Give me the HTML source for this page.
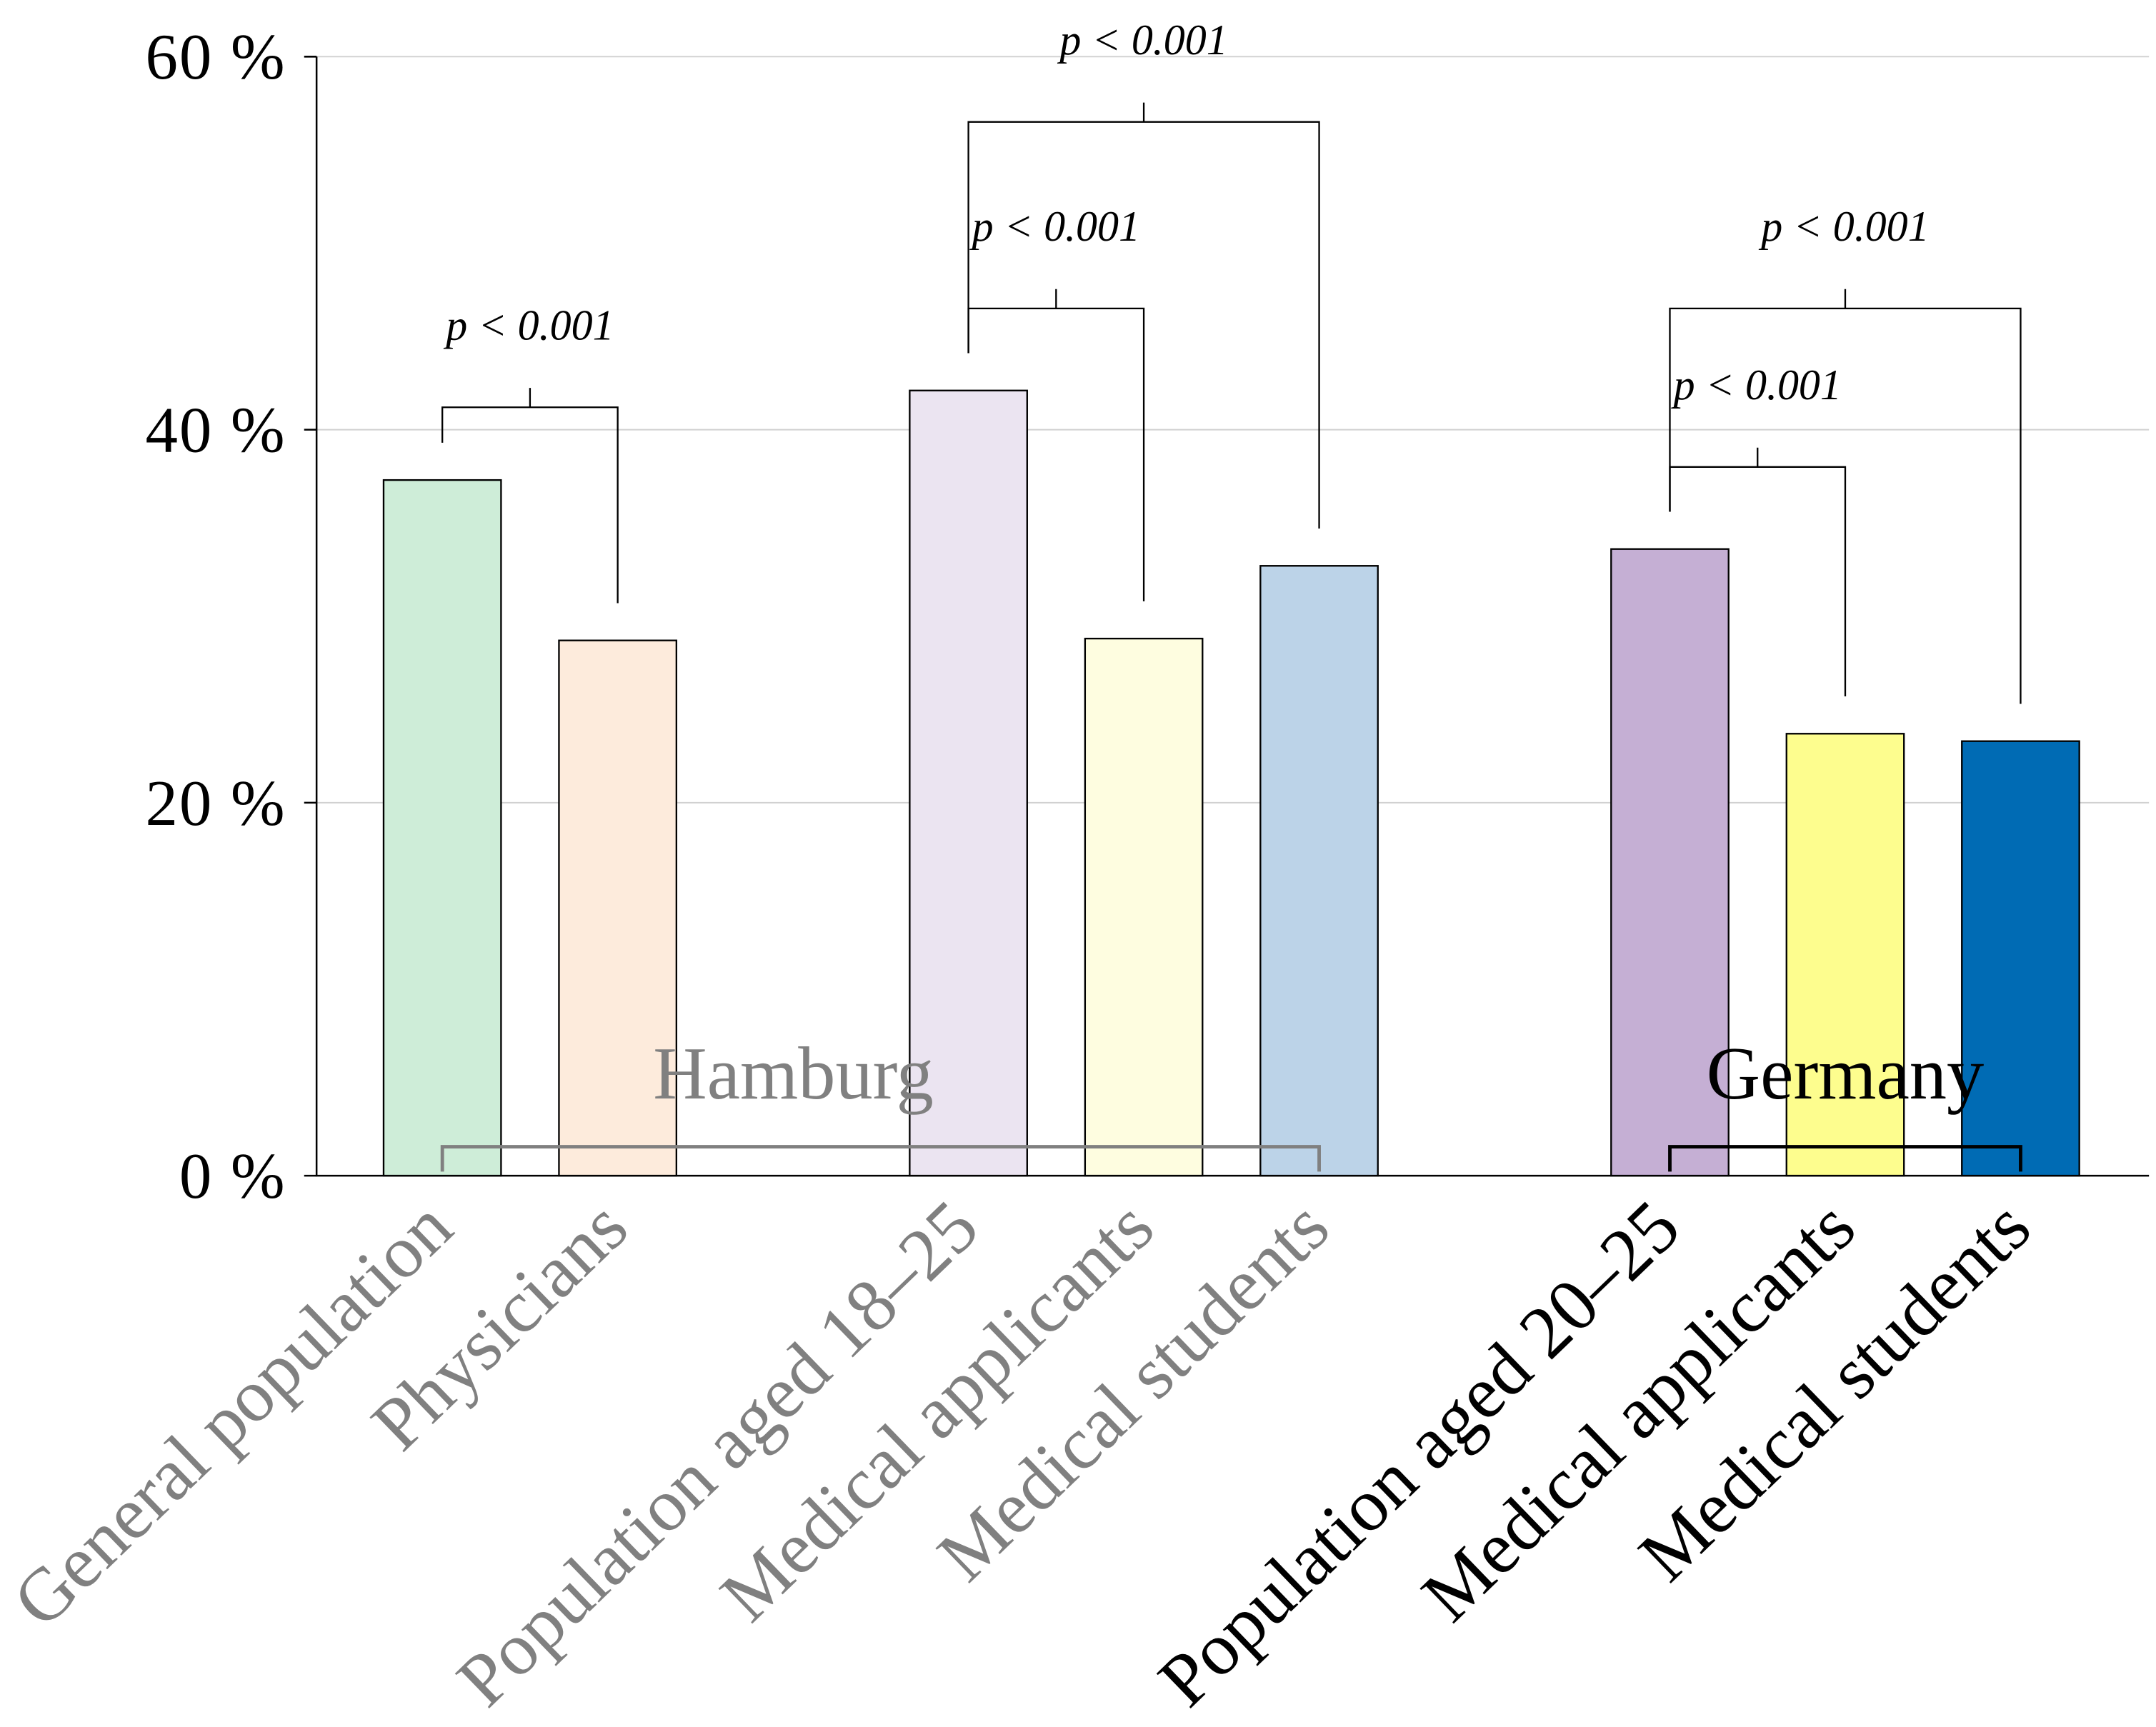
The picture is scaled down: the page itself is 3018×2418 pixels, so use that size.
<!DOCTYPE html>
<html><head><meta charset="utf-8"><style>
html,body{margin:0;padding:0;background:#fff;}
svg{display:block;}
</style></head><body>
<svg id="chart" width="3018" height="2418" viewBox="0 0 1560 1250" xmlns="http://www.w3.org/2000/svg" font-family="'Liberation Serif', serif"></svg>
<script>
const categories = ["General population","Physicians","Population aged 18–25","Medical applicants","Medical students","Population aged 20–25","Medical applicants","Medical students"];
const values = [37.3, 28.7, 42.1, 28.8, 32.7, 33.6, 23.7, 23.3];
const slots = [0, 1, 3, 4, 5, 7, 8, 9];
const colors = ["#ceedd8","#fdebdc","#ebe4f1","#fefde0","#bcd3e8","#c5afd4","#fdfd8e","#006bb4"];
const labelColors = ["#808080","#808080","#808080","#808080","#808080","#000","#000","#000"];
const yTicks = [0, 20, 40, 60];
const yTickLabels = ["0 %","20 %","40 %","60 %"];
// comparisons: [barIndexA, barIndexB, bracket level value]
const comparisons = [[0,1,41.2],[2,4,56.5],[2,3,46.5],[5,7,46.5],[5,6,38.0]];
const groups = [["Hamburg",0,4,"#808080",574],["Germany",5,7,"#000",null]];

const svg = document.getElementById('chart');
const NS = "http://www.w3.org/2000/svg";
const X0 = 229, XR = 1555, Y0 = 851, Y60 = 41;
const y = v => Y0 - (v/60)*(Y0-Y60);
const x = s => 320 + s*126.9;
const BW = 85;
function el(t, a, parent){const e=document.createElementNS(NS,t);for(const k in a)e.setAttribute(k,a[k]);(parent||svg).appendChild(e);return e;}

yTicks.forEach((t,i)=>{
  if(t>0){const g=el('line',{x1:X0,x2:XR,y1:y(t),y2:y(t),stroke:'#d0d0d0','stroke-width':1});
  
  }
  const tk=el('line',{x1:X0-9,x2:X0,y1:y(t),y2:y(t),stroke:'#000','stroke-width':1.3});
  
  
  const tl=el('text',{x:207,y:y(t)+16,'text-anchor':'end','font-size':47,fill:'#000','letter-spacing':1});
  tl.textContent=yTickLabels[i];
  
  
});

values.forEach((v,i)=>{
  const cx=x(slots[i]);
  const r=el('rect',{x:cx-BW/2,y:y(v),width:BW,height:Y0-y(v),fill:colors[i],stroke:'#000','stroke-width':1.2});
  
  
  const ax_=cx+10, ay_=892;
  const t=el('text',{x:ax_,y:ay_,'text-anchor':'end','font-size':54,fill:labelColors[i],transform:`rotate(-44 ${ax_} ${ay_})`});
  t.textContent=categories[i];
  
  
});

const ax=el('path',{d:`M${X0} ${Y60} V${Y0} H${XR}`,fill:'none',stroke:'#000','stroke-width':1.3});



comparisons.forEach((c,k)=>{
  const a=c[0], b=c[1], xa=x(slots[a]), xb=x(slots[b]), yl=y(c[2]);
  const ya=y(values[a])-27, yb=y(values[b])-27;
  const p=el('path',{d:`M${xa} ${ya} V${yl} H${xb} V${yb} M${(xa+xb)/2} ${yl} V${yl-14}`,fill:'none',stroke:'#000','stroke-width':1.2});
  
  
  const t=el('text',{x:(xa+xb)/2,y:yl-49,'text-anchor':'middle','font-size':31,'font-style':'italic',fill:'#000'});
  t.textContent='p < 0.001';
  
  
});

groups.forEach((g,k)=>{
  const xa=x(slots[g[1]]), xb=x(slots[g[2]]);
  const p=el('path',{d:`M${xa} 848 V830 H${xb} V848`,fill:'none',stroke:g[3],'stroke-width':2.5});
  
  
  const tx = g[4]!==null ? g[4] : (xa+xb)/2;
  const t=el('text',{x:tx,y:795,'text-anchor':'middle','font-size':54,fill:g[3]});
  t.textContent=g[0];
  
  
});
</script>
</body></html>
